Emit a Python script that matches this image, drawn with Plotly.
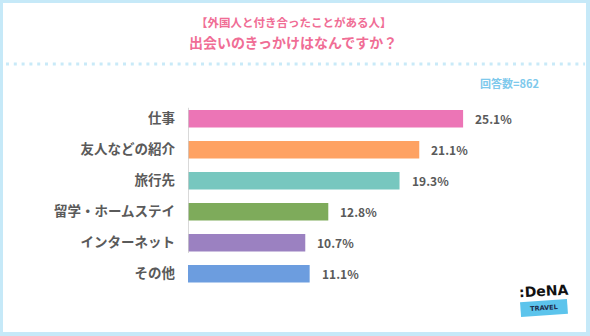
import plotly.graph_objects as go

categories = ["仕事", "友人などの紹介", "旅行先", "留学・ホームステイ", "インターネット", "その他"]
values = [25.1, 21.1, 19.3, 12.8, 10.7, 11.1]
colors = ["#ec75b6", "#fea263", "#77c7bf", "#7eab5b", "#9b81c1", "#6c9ddf"]
title_line1 = "【外国人と付き合ったことがある人】"
title_line2 = "出会いのきっかけはなんですか？"
n_label = "回答数=862"

W, H = 590, 336
JP = "Noto Sans CJK JP"
GRAY = "#5a5a5a"
PINK = "#f06d95"
BORDER = "#c6e9f8"

fig = go.Figure()
fig.add_trace(go.Bar(
    x=values, y=categories, orientation="h",
    marker=dict(color=colors, line=dict(width=0)),
    hoverinfo="skip",
))

x0px, pxper = 188, 10.96
xmax = 36
y_top, y_step = 103.2, 31.0
y_bot = y_top + 6 * y_step

fig.update_layout(
    width=W, height=H,
    margin=dict(l=0, r=0, t=0, b=0),
    paper_bgcolor="white", plot_bgcolor="white",
    showlegend=False,
    bargap=0.44,
    xaxis=dict(range=[0, xmax], domain=[x0px / W, (x0px + xmax * pxper) / W],
               showgrid=False, zeroline=False, showticklabels=False, showline=False),
    yaxis=dict(type="category", categoryorder="array", categoryarray=categories,
               range=[5.5, -0.5], domain=[(H - y_bot) / H, (H - y_top) / H],
               showgrid=False, zeroline=False, showline=False, ticks="",
               ticklabelstandoff=12,
               tickfont=dict(family=JP, size=13.5, color=GRAY, weight="bold")),
    font=dict(family=JP),
)

# value labels
for c, v in zip(categories, values):
    fig.add_annotation(x=v, y=c, xref="x", yref="y", text=f"{v}%", showarrow=False,
                       xanchor="left", yanchor="middle", xshift=10,
                       font=dict(family=JP, size=12, color=GRAY, weight="bold"))

# vertical axis line
fig.add_shape(type="line", xref="x", yref="y", x0=0, x1=0, y0=-0.35, y1=4.33,
              line=dict(color="#cccccc", width=1.5))


def pa(px, py, **kw):
    return dict(x=px / W, y=1 - py / H, xref="paper", yref="paper", showarrow=False,
                xanchor=kw.pop("xanchor", "center"), yanchor="middle", **kw)


# titles
fig.add_annotation(**pa(294, 22.5, text=title_line1,
                        font=dict(family=JP, size=11.5, color=PINK, weight="bold")))
fig.add_annotation(**pa(293, 41.5, text=title_line2,
                        font=dict(family=JP, size=14, color=PINK, weight="bold")))

# dotted separator
fig.add_shape(type="line", xref="paper", yref="paper", x0=6 / W, x1=585 / W,
              y0=1 - 64 / H, y1=1 - 64 / H,
              line=dict(color="#c9eaf8", width=3, dash="3px,4.8px"))

# respondents
fig.add_annotation(**pa(541, 82.5, text=n_label, xanchor="right",
                        font=dict(family=JP, size=11, color="#7ec9ec", weight="bold")))

# border frame
for (a, b, c, d) in [(0, 0, W, 3), (0, 0, 3, H), (W - 4, 0, W, H), (0, H - 4, W, H)]:
    fig.add_shape(type="rect", xref="paper", yref="paper",
                  x0=a / W, x1=c / W, y0=1 - d / H, y1=1 - b / H,
                  fillcolor=BORDER, line=dict(width=0), layer="above")

# logo
fig.add_annotation(**pa(543, 291, text=":DeNA", textangle=-3,
                        font=dict(family="DejaVu Sans", size=14, color="#111111", weight="bold")))
fig.add_annotation(**pa(544, 308, text="TRAVEL", textangle=-4, bgcolor="#5cc4ec",
                        borderpad=3, width=40,
                        font=dict(family="DejaVu Sans", size=6.5, color="#1d2b4a", weight="bold")))

fig.write_html("out.html")
